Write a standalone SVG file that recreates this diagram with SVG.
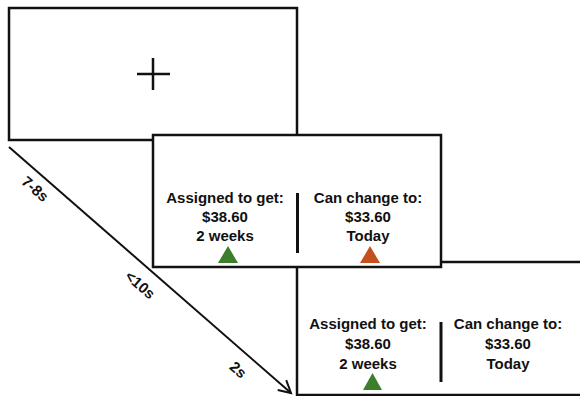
<svg xmlns="http://www.w3.org/2000/svg" width="580" height="396" viewBox="0 0 580 396">
<defs>
<style>
.box{fill:#fff;stroke:#111;stroke-width:2.5}
.t{font-family:"Liberation Sans",Arial,sans-serif;font-weight:bold;font-size:15px;fill:#111;text-anchor:middle}
.lbl{font-family:"Liberation Sans",Arial,sans-serif;font-weight:bold;font-size:15px;fill:#111;text-anchor:middle}
.div{stroke:#111;stroke-width:3}
.g{fill:#3b7f2d}
.o{fill:#c4501f}
</style>
<marker id="arr" markerWidth="16" markerHeight="16" refX="13" refY="8" orient="auto" markerUnits="userSpaceOnUse">
<path d="M1,1.5 L13,8 L1,14.5" fill="none" stroke="#111" stroke-width="2"/>
</marker>
</defs>
<g id="screen3">
<rect class="box" x="297" y="262" width="290" height="133"/>
<text class="t" x="368" y="329">Assigned to get:</text>
<text class="t" x="368" y="349">$38.60</text>
<text class="t" x="368" y="369">2 weeks</text>
<line class="div" x1="441" y1="322" x2="441" y2="382"/>
<text class="t" x="508" y="329">Can change to:</text>
<text class="t" x="508" y="349">$33.60</text>
<text class="t" x="508" y="369">Today</text>
<polygon class="g" points="363,390 382,390 372.5,373"/>
</g>
<g id="screen1">
<rect class="box" x="9" y="8" width="288" height="132"/>
<path d="M137,74 H170 M153,58 V90" stroke="#111" stroke-width="2.5" fill="none"/>
</g>
<g id="screen2">
<rect class="box" x="153" y="135" width="288" height="132"/>
<text class="t" x="225" y="203">Assigned to get:</text>
<text class="t" x="225" y="222">$38.60</text>
<text class="t" x="225" y="241">2 weeks</text>
<line class="div" x1="297.5" y1="193" x2="297.5" y2="253"/>
<text class="t" x="368" y="203">Can change to:</text>
<text class="t" x="368" y="222">$33.60</text>
<text class="t" x="368" y="241">Today</text>
<polygon class="g" points="218,263 238,263 228,246"/>
<polygon class="o" points="360,263 380,263 370,246"/>
</g>
<g id="connectors">
<line x1="9" y1="147" x2="291" y2="393" stroke="#111" stroke-width="2" marker-end="url(#arr)"/>
<text class="lbl" transform="translate(35,189) rotate(41)" y="5">7-8s</text>
<text class="lbl" transform="translate(140,285) rotate(41)" y="5">&lt;10s</text>
<text class="lbl" transform="translate(238,370) rotate(41)" y="5">2s</text>
</g>
</svg>
